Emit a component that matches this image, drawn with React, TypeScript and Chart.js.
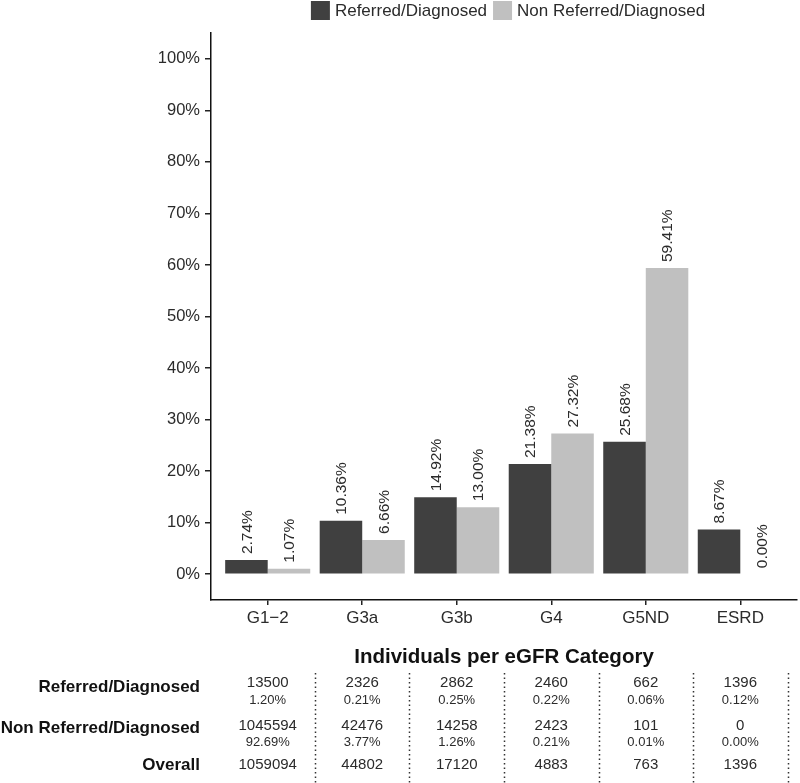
import React, { useEffect, useRef } from "react";
import { Chart, registerables } from "chart.js";

Chart.register(...registerables);

const categories = ["G1\u22122", "G3a", "G3b", "G4", "G5ND", "ESRD"];
const seriesNames = ["Referred/Diagnosed", "Non Referred/Diagnosed"];
const referredPct = [2.74, 10.36, 14.92, 21.38, 25.68, 8.67];
const nonReferredPct = [1.07, 6.66, 13.0, 27.32, 59.41, 0.0];
const yTickValues = [0, 10, 20, 30, 40, 50, 60, 70, 80, 90, 100];

const tableTitle = "Individuals per eGFR Category";
const tableRowLabels = ["Referred/Diagnosed", "Non Referred/Diagnosed", "Overall"];
const referredCounts = [13500, 2326, 2862, 2460, 662, 1396];
const referredShare = ["1.20%", "0.21%", "0.25%", "0.22%", "0.06%", "0.12%"];
const nonReferredCounts = [1045594, 42476, 14258, 2423, 101, 0];
const nonReferredShare = ["92.69%", "3.77%", "1.26%", "0.21%", "0.01%", "0.00%"];
const overallCounts = [1059094, 44802, 17120, 4883, 763, 1396];

const DARK = "#404040";
const LIGHT = "#c0c0c0";
const FONT = '"Liberation Sans", Arial, Helvetica, sans-serif';
const TEXT = "#2b2b2b";

const barLabelPlugin = {
  id: "barLabels",
  afterDatasetsDraw(chart: any) {
    const ctx = chart.ctx;
    ctx.save();
    ctx.font = `15.5px ${FONT}`;
    ctx.fillStyle = TEXT;
    ctx.textAlign = "left";
    ctx.textBaseline = "middle";
    chart.data.datasets.forEach((ds: any, di: number) => {
      const meta = chart.getDatasetMeta(di);
      meta.data.forEach((el: any, i: number) => {
        const v = ds.data[i].y as number;
        ctx.save();
        ctx.translate(el.x + 1, el.y - 6);
        ctx.rotate(-Math.PI / 2);
        ctx.fillText(v.toFixed(2) + "%", 0, 0);
        ctx.restore();
      });
    });
    ctx.restore();
  },
};

const legendPlugin = {
  id: "customLegend",
  afterDraw(chart: any) {
    const ctx = chart.ctx;
    ctx.save();
    ctx.font = `17px ${FONT}`;
    ctx.textBaseline = "middle";
    ctx.textAlign = "left";
    const box = 19;
    const gapBoxText = 5;
    const gapItems = 6;
    const widths = seriesNames.map((n) => box + gapBoxText + ctx.measureText(n).width);
    const total = widths[0] + widths[1] + gapItems;
    const cx = (chart.chartArea.left + chart.chartArea.right) / 2 + 4;
    let x = cx - total / 2;
    const y = 1;
    const colors = [DARK, LIGHT];
    seriesNames.forEach((n, i) => {
      ctx.fillStyle = colors[i];
      ctx.fillRect(x, y, box, box);
      ctx.fillStyle = TEXT;
      ctx.fillText(n, x + box + gapBoxText, y + box / 2 + 1);
      x += widths[i] + gapItems;
    });
    ctx.restore();
  },
};

const tablePlugin = {
  id: "countTable",
  afterDraw(chart: any) {
    const ctx = chart.ctx;
    const xs = chart.scales.x;
    const area = chart.chartArea;
    ctx.save();
    ctx.fillStyle = "#111";
    ctx.textBaseline = "middle";
    ctx.textAlign = "center";
    ctx.font = `bold 20.5px ${FONT}`;
    ctx.fillText(tableTitle, (area.left + area.right) / 2, 657);

    ctx.textAlign = "right";
    ctx.font = `bold 17px ${FONT}`;
    const rowY = [687, 728, 765];
    tableRowLabels.forEach((l, i) => ctx.fillText(l, 200, rowY[i]));

    ctx.fillStyle = TEXT;
    ctx.textAlign = "center";
    categories.forEach((_, i) => {
      const cx = xs.getPixelForValue(i);
      ctx.font = `15px ${FONT}`;
      ctx.fillText(String(referredCounts[i]), cx, 683);
      ctx.fillText(String(nonReferredCounts[i]), cx, 726);
      ctx.fillText(String(overallCounts[i]), cx, 765);
      ctx.font = `13px ${FONT}`;
      ctx.fillText(referredShare[i], cx, 700);
      ctx.fillText(nonReferredShare[i], cx, 742);
    });

    ctx.strokeStyle = "#333";
    ctx.lineWidth = 1.5;
    ctx.setLineDash([1.5, 3]);
    categories.forEach((_, i) => {
      const sx = Math.round(xs.getPixelForValue(i + 0.5)) + 0.5;
      ctx.beginPath();
      ctx.moveTo(sx, 673);
      ctx.lineTo(sx, 783);
      ctx.stroke();
    });
    ctx.restore();
  },
};

export default function App() {
  const ref = useRef<HTMLCanvasElement | null>(null);

  useEffect(() => {
    document.body.style.margin = "0";
    const canvas = ref.current;
    if (!canvas) return;
    const chart = new Chart(canvas, {
      type: "bar",
      data: {
        datasets: [
          {
            label: seriesNames[0],
            data: referredPct.map((v, i) => ({ x: i, y: v })),
            backgroundColor: DARK,
            borderWidth: 0,
            categoryPercentage: 0.9,
            barPercentage: 1.0,
          },
          {
            label: seriesNames[1],
            data: nonReferredPct.map((v, i) => ({ x: i, y: v })),
            backgroundColor: LIGHT,
            borderWidth: 0,
            categoryPercentage: 0.9,
            barPercentage: 1.0,
          },
        ],
      },
      options: {
        responsive: false,
        animation: false,
        devicePixelRatio: 1,
        layout: { padding: { left: 0, right: 3, top: 33, bottom: 0 } },
        plugins: {
          legend: { display: false },
          tooltip: { enabled: false },
        },
        scales: {
          x: {
            type: "linear",
            min: -0.6,
            max: 5.6,
            offset: false,
            afterBuildTicks: (scale: any) => {
              scale.ticks = categories.map((_, i) => ({ value: i }));
            },
            afterFit: (scale: any) => {
              scale.height = 183;
            },
            ticks: {
              callback: (v: any) => categories[Math.round(Number(v))],
              font: { family: FONT, size: 17 },
              color: TEXT,
              padding: 3,
              maxRotation: 0,
              autoSkip: false,
            },
            grid: {
              offset: false,
              drawOnChartArea: false,
              drawTicks: true,
              tickLength: 5,
              color: "#222",
              lineWidth: 1.5,
            },
            border: { display: true, color: "#111", width: 1.5 },
          },
          y: {
            type: "linear",
            min: -5,
            max: 105,
            afterBuildTicks: (scale: any) => {
              scale.ticks = yTickValues.map((v) => ({ value: v }));
            },
            afterFit: (scale: any) => {
              scale.width = 211;
            },
            ticks: {
              callback: (v: any) => `${v}%`,
              font: { family: FONT, size: 16.5 },
              color: TEXT,
              padding: 5,
            },
            grid: {
              drawOnChartArea: false,
              drawTicks: true,
              tickLength: 6,
              color: "#222",
              lineWidth: 1.5,
            },
            border: { display: true, color: "#111", width: 1.5 },
          },
        },
      } as any,
      plugins: [barLabelPlugin, legendPlugin, tablePlugin],
    });
    return () => chart.destroy();
  }, []);

  return (
    <div style={{ width: 800, height: 783, background: "#fff" }}>
      <canvas ref={ref} width={800} height={783} style={{ display: "block" }} />
    </div>
  );
}
